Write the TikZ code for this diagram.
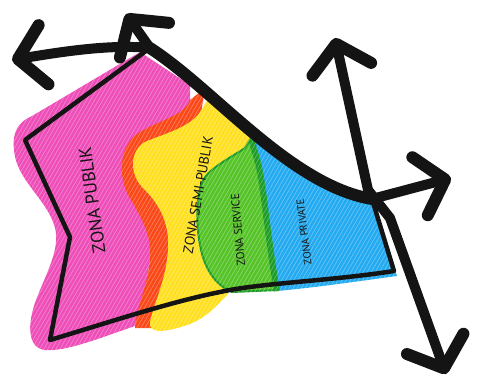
\documentclass[tikz,border=0pt]{standalone}
\usepackage{fontspec}
\newfontfamily\handfont{PT Sans}
\usetikzlibrary{arrows.meta,patterns.meta}
\definecolor{pinkz}{RGB}{238,78,184}
\definecolor{orangez}{RGB}{250,72,24}
\definecolor{yellowz}{RGB}{255,224,32}
\definecolor{greenz}{RGB}{86,196,40}
\definecolor{greendk}{RGB}{30,156,40}
\definecolor{bluez}{RGB}{36,170,240}
\definecolor{inkz}{RGB}{20,20,20}

\begin{document}
\begin{tikzpicture}[x=1pt,y=-1pt,
  >={Straight Barb[length=26pt,width=60pt,line width=12pt,round]},
  barb/.style={line width=10pt,line cap=round,line join=round,inkz},
  rim/.style={line width=4.5pt,line join=round,inkz},
  zone/.style={font=\handfont\fontsize{#1}{#1}\selectfont,text=inkz,inner sep=0pt}]
  \useasboundingbox (0,0) rectangle (477,383);
  \coordinate (nw) at (150,48);
  \coordinate (ne) at (372,199);

  % coloured zones, kept below the heavy top edge
  \begin{scope}
    \clip (0,0) -- (140,0) -- (140,48) .. controls (215,90) and (290,185) .. (372,200)
      -- (398,275) -- (398,383) -- (0,383) -- cycle;
    \fill[pinkz] (14,150) .. controls (12,132) and (18,122) .. (32,116) -- (140,52)
      -- (190,85) -- (190,110) -- (160,200) -- (140,320) -- (135,326)
      .. controls (100,338) and (65,352) .. (45,350) .. controls (25,348) and (28,318) .. (38,295)
      .. controls (48,270) and (60,248) .. (55,228) .. controls (48,200) and (16,180) .. (14,150) -- cycle;
    \fill[orangez] (205,88) -- (190,100) .. controls (185,115) and (160,120) .. (140,132)
      .. controls (122,142) and (116,170) .. (128,195) .. controls (140,215) and (152,235) .. (150,258)
      .. controls (148,285) and (137,305) .. (135,328) -- (152,328) -- (175,250) -- (200,120) -- cycle;
    \fill[yellowz] (215,88) -- (200,112) .. controls (190,128) and (160,135) .. (145,142)
      .. controls (130,150) and (128,175) .. (145,190) .. controls (160,205) and (170,225) .. (168,250)
      .. controls (166,280) and (155,300) .. (150,322) .. controls (148,334) and (165,333) .. (190,324)
      .. controls (205,318) and (215,308) .. (228,294) -- (240,200) -- (255,125) -- cycle;
    \filldraw[greenz,draw=greendk,line width=2pt] (256,130) -- (245,148)
      .. controls (230,158) and (210,168) .. (203,180) .. controls (196,195) and (196,225) .. (200,245)
      .. controls (204,268) and (215,285) .. (232,292) -- (278,290) -- (270,200) -- (262,135) -- cycle;
    \fill[bluez] (252,130) -- (254,150) .. controls (260,165) and (263,190) .. (266,215)
      .. controls (270,245) and (273,270) .. (277,291) .. controls (320,287) and (360,281) .. (397,276)
      -- (372,200) -- cycle;
    \draw[greendk,line width=6pt] (252,140) -- (254,150) .. controls (260,165) and (263,190) .. (266,215)
      .. controls (270,245) and (273,270) .. (277,291);
    \fill[pattern={Lines[angle=60,distance=3.5pt,line width=0.7pt]},pattern color=white,opacity=0.3]
      (0,0) rectangle (400,383);
  \end{scope}

  % labels
  \node[zone=18,rotate=98] (publik) at (92,200) {ZONA PUBLIK};
  \node[zone=14,rotate=80] (semi) at (198,195) {ZONA SEMI-PUBLIK};
  \node[zone=11.5,rotate=95] (service) at (238,230) {ZONA SERVICE};
  \node[zone=10.5,rotate=97] (private) at (304,232) {ZONA PRIVATE};

  % outline of the site
  \draw[rim] (25,140) -- (nw) .. controls (215,90) and (290,185) .. (ne) -- (394,271)
    .. controls (330,281) and (260,283) .. (220,292) .. controls (170,302) and (110,322) .. (50,340)
    -- (70,237) -- cycle;
  \draw[barb,line width=12pt] (nw) .. controls (215,90) and (290,185) .. (ne);

  % arrows
  \draw[barb,->] (nw) .. controls (110,44) and (60,52) .. (12,60);
  \draw[barb,->] (nw) -- (126,14);
  \draw[barb,->] (ne) -- (451,178);
  \draw[barb,<->] (335,38) -- (368,190) -- (390,218) -- (446,374);
\end{tikzpicture}
\end{document}
